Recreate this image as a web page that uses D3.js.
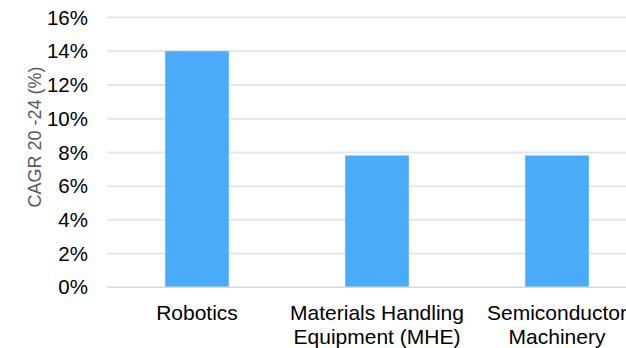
<!DOCTYPE html>
<html>
<head>
<meta charset="utf-8">
<script src="https://cdn.jsdelivr.net/npm/d3@7/dist/d3.min.js"></script>
<style>
  html, body { margin: 0; padding: 0; background: #fff; }
  svg { display: block; }
  text { font-family: "Liberation Sans", Arial, sans-serif; }
</style>
</head>
<body>
<svg id="chart" width="626" height="348"></svg>
<script>
// Category labels (each entry split into display lines)
const categories = ["Robotics", "Materials Handling Equipment (MHE)", "Semiconductor Machinery"];
const categoryLines = [["Robotics"], ["Materials Handling", "Equipment (MHE)"], ["Semiconductor", "Machinery"]];
// CAGR 2020-24, percent
const cagrValues = [14.0, 7.8, 7.8];
// Y-axis ticks, percent
const yTicks = [0, 2, 4, 6, 8, 10, 12, 14, 16];

const svg = d3.select("#chart");
const W = 626, H = 348;

const plot = { left: 107, right: 647, top: 17.5, bottom: 287.3 };

const x = d3.scaleBand()
  .domain(categories)
  .range([plot.left, plot.right])
  .paddingInner(0.647)
  .paddingOuter(0.3235);

const y = d3.scaleLinear()
  .domain([0, 16])
  .range([plot.bottom, plot.top]);

// Horizontal gridlines
svg.append("g")
  .selectAll("line")
  .data(yTicks.filter(t => t !== 0))
  .join("line")
  .attr("x1", plot.left)
  .attr("x2", W)
  .attr("y1", d => y(d))
  .attr("y2", d => y(d))
  .attr("stroke", "#e6e6e6")
  .attr("stroke-width", 2);

// Bars
svg.append("g")
  .selectAll("rect")
  .data(categories)
  .join("rect")
  .attr("x", d => x(d))
  .attr("y", (d, i) => y(cagrValues[i]))
  .attr("width", x.bandwidth())
  .attr("height", (d, i) => y(0) - y(cagrValues[i]))
  .attr("fill", "#4aacf8")
  .attr("stroke", "#6cbcf9")
  .attr("stroke-width", 0.6);

// Baseline
svg.append("line")
  .attr("x1", plot.left)
  .attr("x2", W)
  .attr("y1", y(0))
  .attr("y2", y(0))
  .attr("stroke", "#d9d9d9")
  .attr("stroke-width", 1.5);

// Y tick labels
svg.append("g")
  .selectAll("text")
  .data(yTicks)
  .join("text")
  .attr("x", 88)
  .attr("y", d => y(d))
  .attr("dy", "0.35em")
  .attr("text-anchor", "end")
  .attr("font-size", 20.5)
  .attr("fill", "#000")
  .text(d => d + "%");

// Category labels
const cat = svg.append("g")
  .selectAll("text")
  .data(categories)
  .join("text")
  .attr("text-anchor", "middle")
  .attr("font-size", 21)
  .attr("fill", "#000");

cat.each(function (d, i) {
  const t = d3.select(this);
  categoryLines[i].forEach((line, j) => {
    t.append("tspan")
      .attr("x", x(d) + x.bandwidth() / 2)
      .attr("y", 319.5 + j * 24)
      .text(line);
  });
});

// Y axis title
svg.append("text")
  .attr("transform", "translate(41,137) rotate(-90)")
  .attr("text-anchor", "middle")
  .attr("font-size", 18)
  .attr("fill", "#595959")
  .text("CAGR 20 -24 (%)");
</script>
</body>
</html>
